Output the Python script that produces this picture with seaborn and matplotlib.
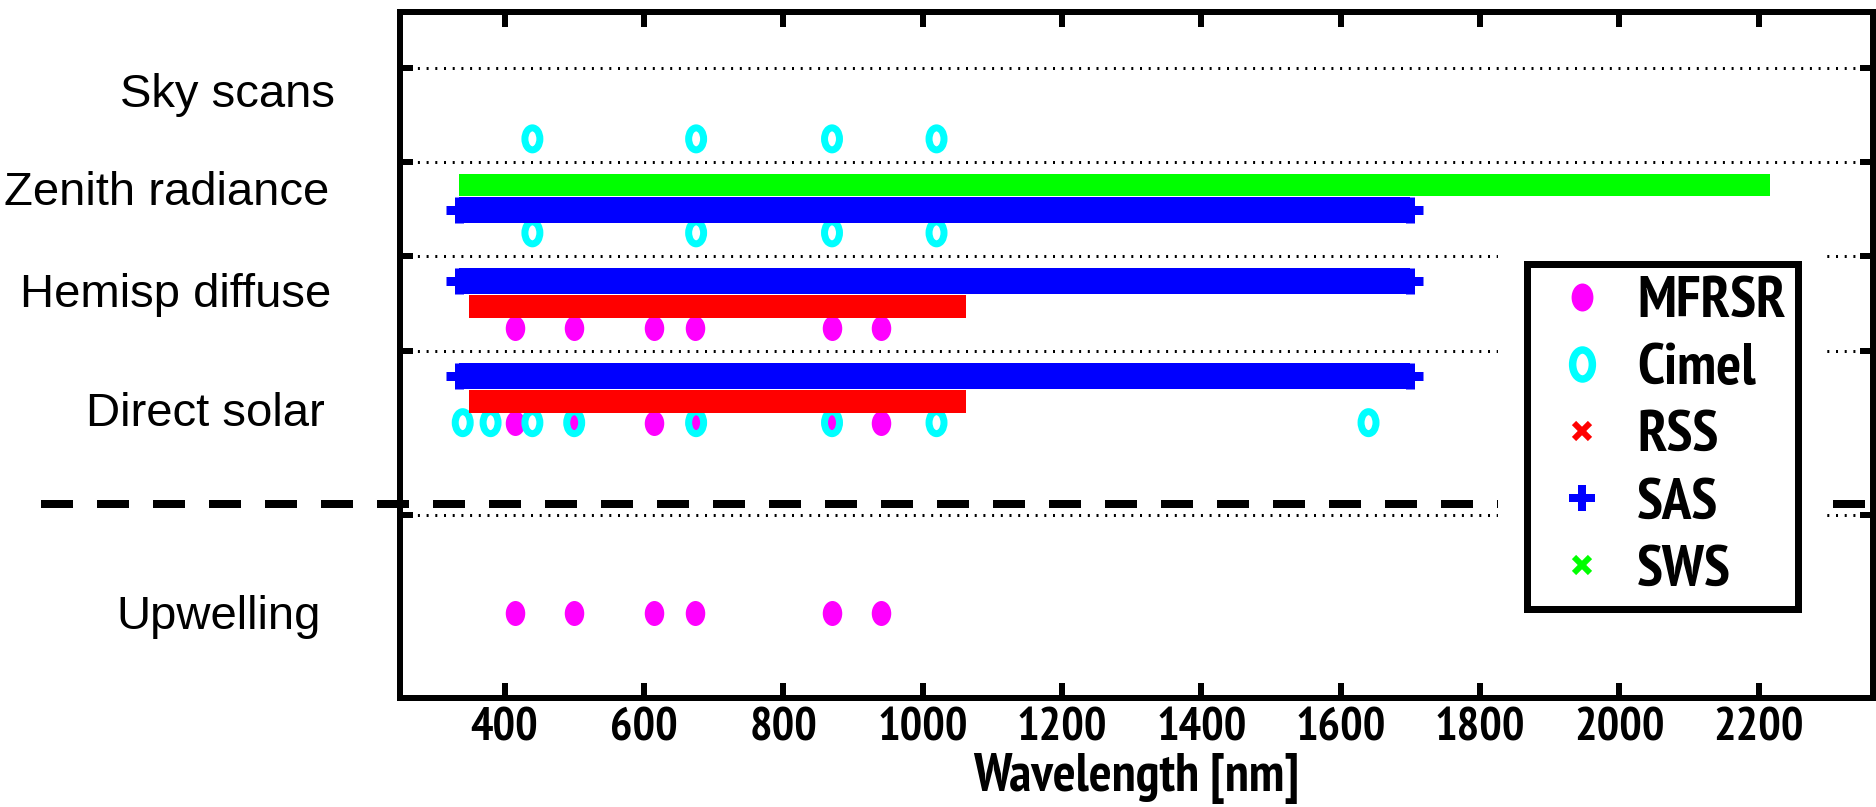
import numpy as np
import matplotlib
matplotlib.use("Agg")
import matplotlib.pyplot as plt
import matplotlib.patheffects as pe
import seaborn as sns
import pandas as pd
from matplotlib.path import Path
from matplotlib.transforms import Affine2D
from matplotlib.lines import Line2D
from matplotlib import font_manager as fm
from matplotlib.font_manager import FontProperties
from matplotlib.textpath import TextToPath

# ---------------- data ----------------
row_labels = ["Sky scans", "Zenith radiance", "Hemisp diffuse", "Direct solar", "Upwelling"]
instruments = ["MFRSR", "Cimel", "RSS", "SAS", "SWS"]
mfrsr_wl = [415, 500, 615, 673, 870, 940]
cimel_direct_wl = [340, 380, 440, 500, 675, 870, 1020, 1640]
cimel_sky_wl = [440, 675, 870, 1020]
sas_range = [335, 1700]
rss_range = [365, 1045]
sws_range = [350, 2200]
x_ticks = [400, 600, 800, 1000, 1200, 1400, 1600, 1800, 2000, 2200]
x_label = "Wavelength [nm]"

# ---------------- layout ----------------
row_bounds = [6.70, 5.70, 4.70, 3.69, 1.95]
label_y = [6.42, 5.37, 4.29, 3.02, 0.86]
label_x_px = [335, 329, 331, 325, 321]
y_cimel_sky, y_cimel_zen = 5.95, 4.95
y_sws_zen, y_sas_zen = 5.46, 5.19
y_sas_hem, y_rss_hem, y_mfrsr_hem = 4.44, 4.17, 3.94
y_sas_dir, y_rss_dir, y_dir_pts = 3.43, 3.165, 2.93
y_up = 0.90
y_divider = 2.06

PT = 0.72  # points per pixel at dpi 100
MAG, CYAN, RED, BLUE, GREEN = "#ff00ff", "#00ffff", "#ff0000", "#0000ff", "#00ff00"

sns.set_style("white")
plt.rcParams["font.family"] = ["Liberation Sans", "DejaVu Sans"]
for k in ("text.color", "axes.labelcolor", "xtick.color", "ytick.color", "axes.edgecolor"):
    plt.rcParams[k] = "black"


# ---- choose a condensed bold font if one exists ----
def _is_bold(w):
    if isinstance(w, (int, float)):
        return w >= 700
    w = str(w).lower()
    return w.isdigit() and int(w) >= 700 or w in ("bold", "heavy", "black", "demibold", "semibold")


def find_condensed_bold():
    best = None
    for f in fm.fontManager.ttflist:
        key = (f.name + " " + f.fname).lower()
        if f.style != "normal" or not _is_bold(f.weight):
            continue
        if "narrow" in key:
            return f.fname
        if ("condensed" in key or str(f.stretch) in ("condensed", "semi-condensed")) and best is None:
            best = f.fname
    return best


cond = find_condensed_bold()


def bold_fp(size):
    if cond:
        return FontProperties(fname=cond, size=size)
    return FontProperties(family=["Liberation Sans", "DejaVu Sans"], weight="bold", size=size)


ttp = TextToPath()


def size_for_width(text, width_px, boost=1.04):
    w, h, d = ttp.get_text_width_height_descent(text, bold_fp(10), ismath=False)
    return 10 * (width_px * PT) / w * boost


fs_tick = size_for_width("1200", 87)
fs_leg = size_for_width("MFRSR", 143)
fs_xlab = size_for_width(x_label, 314)

fig = plt.figure(figsize=(18.76, 8.07), dpi=100)
ax = fig.add_axes([400 / 1876, 1 - 698 / 807, 1473 / 1876, 686 / 807])

circ = Path.unit_circle()
ell_mfrsr = circ.transformed(Affine2D().scale(0.78, 1.0))
ell_cimel = circ.transformed(Affine2D().scale(0.68, 1.0))

# points
mf = pd.DataFrame({
    "wl": mfrsr_wl * 3,
    "y": [y_mfrsr_hem] * len(mfrsr_wl) + [y_dir_pts] * len(mfrsr_wl) + [y_up] * len(mfrsr_wl),
})
ci = pd.DataFrame({
    "wl": cimel_sky_wl * 2 + cimel_direct_wl,
    "y": [y_cimel_sky] * len(cimel_sky_wl) + [y_cimel_zen] * len(cimel_sky_wl)
         + [y_dir_pts] * len(cimel_direct_wl),
})
sns.scatterplot(data=mf, x="wl", y="y", marker=ell_mfrsr, s=(25 * PT) ** 2,
                color=MAG, linewidth=0, ax=ax, zorder=3)
sns.scatterplot(data=ci, x="wl", y="y", marker=ell_cimel, s=(22 * PT) ** 2,
                facecolor="none", edgecolor=CYAN, linewidth=7 * PT, ax=ax, zorder=4)


def band_x(rng, y, color, height_px):
    ax.plot(rng, [y, y], color=color, lw=height_px * PT, solid_capstyle="projecting", zorder=5)


def band_plus(rng, y, color, height_px, mew_px):
    ax.plot(rng, [y, y], color=color, lw=height_px * PT, solid_capstyle="butt", zorder=5)
    ax.plot(rng, [y, y], ls="none", marker="+", color=color,
            markersize=height_px * PT, markeredgewidth=mew_px * PT, zorder=5)


for y in (y_rss_hem, y_rss_dir):
    band_x(rss_range, y, RED, 23)
for y in (y_sas_zen, y_sas_hem, y_sas_dir):
    band_plus(sas_range, y, BLUE, 26, 9)
band_x(sws_range, y_sws_zen, GREEN, 22)

# axes styling
ax.set_xlim(250, 2364)
ax.set_ylim(0, 7.3)
ax.set_xticks(x_ticks)
ax.set_xticklabels([str(t) for t in x_ticks])
for lab in ax.get_xticklabels():
    lab.set_fontproperties(bold_fp(fs_tick))
    lab.set_color("black")
ax.set_yticks(row_bounds)
ax.set_yticklabels([])
ax.tick_params(axis="both", direction="in", width=6 * PT, color="black")
ax.tick_params(axis="x", length=15 * PT, top=True, bottom=True, pad=7)
ax.tick_params(axis="y", length=13 * PT, left=True, right=True)
for s in ax.spines.values():
    s.set_linewidth(6 * PT)
    s.set_color("black")
ax.yaxis.grid(True, color="black", linestyle=(0, (0.67, 2.23)), linewidth=3 * PT)
ax.xaxis.grid(False)
ax.set_axisbelow(True)
ax.set_xlabel(x_label, fontproperties=bold_fp(fs_xlab), labelpad=2, color="black")
ax.set_ylabel("")

# row labels
for lab, y, xp in zip(row_labels, label_y, label_x_px):
    ax.text((xp - 400) / 1473, y, lab, transform=ax.get_yaxis_transform(), ha="right",
            va="center", fontsize=34, color="black")

# divider line across the figure
ax.plot([-0.244, 1.01], [y_divider, y_divider], transform=ax.get_yaxis_transform(),
        color="black", lw=8 * PT, linestyle=(0, (4, 3)), clip_on=False, zorder=2)

# legend
handles = [
    Line2D([], [], ls="none", marker=ell_mfrsr, color=MAG, markersize=28 * PT, markeredgewidth=0),
    Line2D([], [], ls="none", marker=ell_cimel, markerfacecolor="none", markeredgecolor=CYAN,
           markersize=29 * PT, markeredgewidth=7.5 * PT),
    Line2D([], [], ls="none", marker="x", color=RED, markersize=16 * PT, markeredgewidth=6 * PT),
    Line2D([], [], ls="none", marker="+", color=BLUE, markersize=27 * PT, markeredgewidth=8 * PT),
    Line2D([], [], ls="none", marker="x", color=GREEN, markersize=16 * PT, markeredgewidth=6 * PT),
]
fs_px = fs_leg / PT
leg = ax.legend(handles, instruments, loc="upper left",
                bbox_to_anchor=((1527 - 400) / 1473, (698 - 264) / 686),
                borderaxespad=0, frameon=True, fancybox=False, framealpha=1,
                prop=bold_fp(fs_leg),
                labelspacing=(68 - 0.92 * fs_px) / fs_px, borderpad=12 / fs_px,
                handlelength=85 / fs_px, handletextpad=13 / fs_px, handleheight=0.7)
frame = leg.get_frame()
frame.set_edgecolor("black")
frame.set_linewidth(7 * PT)
frame.set_path_effects([pe.Stroke(linewidth=58 * PT, foreground="white"), pe.Normal()])
leg.set_zorder(10)

fig.savefig("out.png", dpi=100)
